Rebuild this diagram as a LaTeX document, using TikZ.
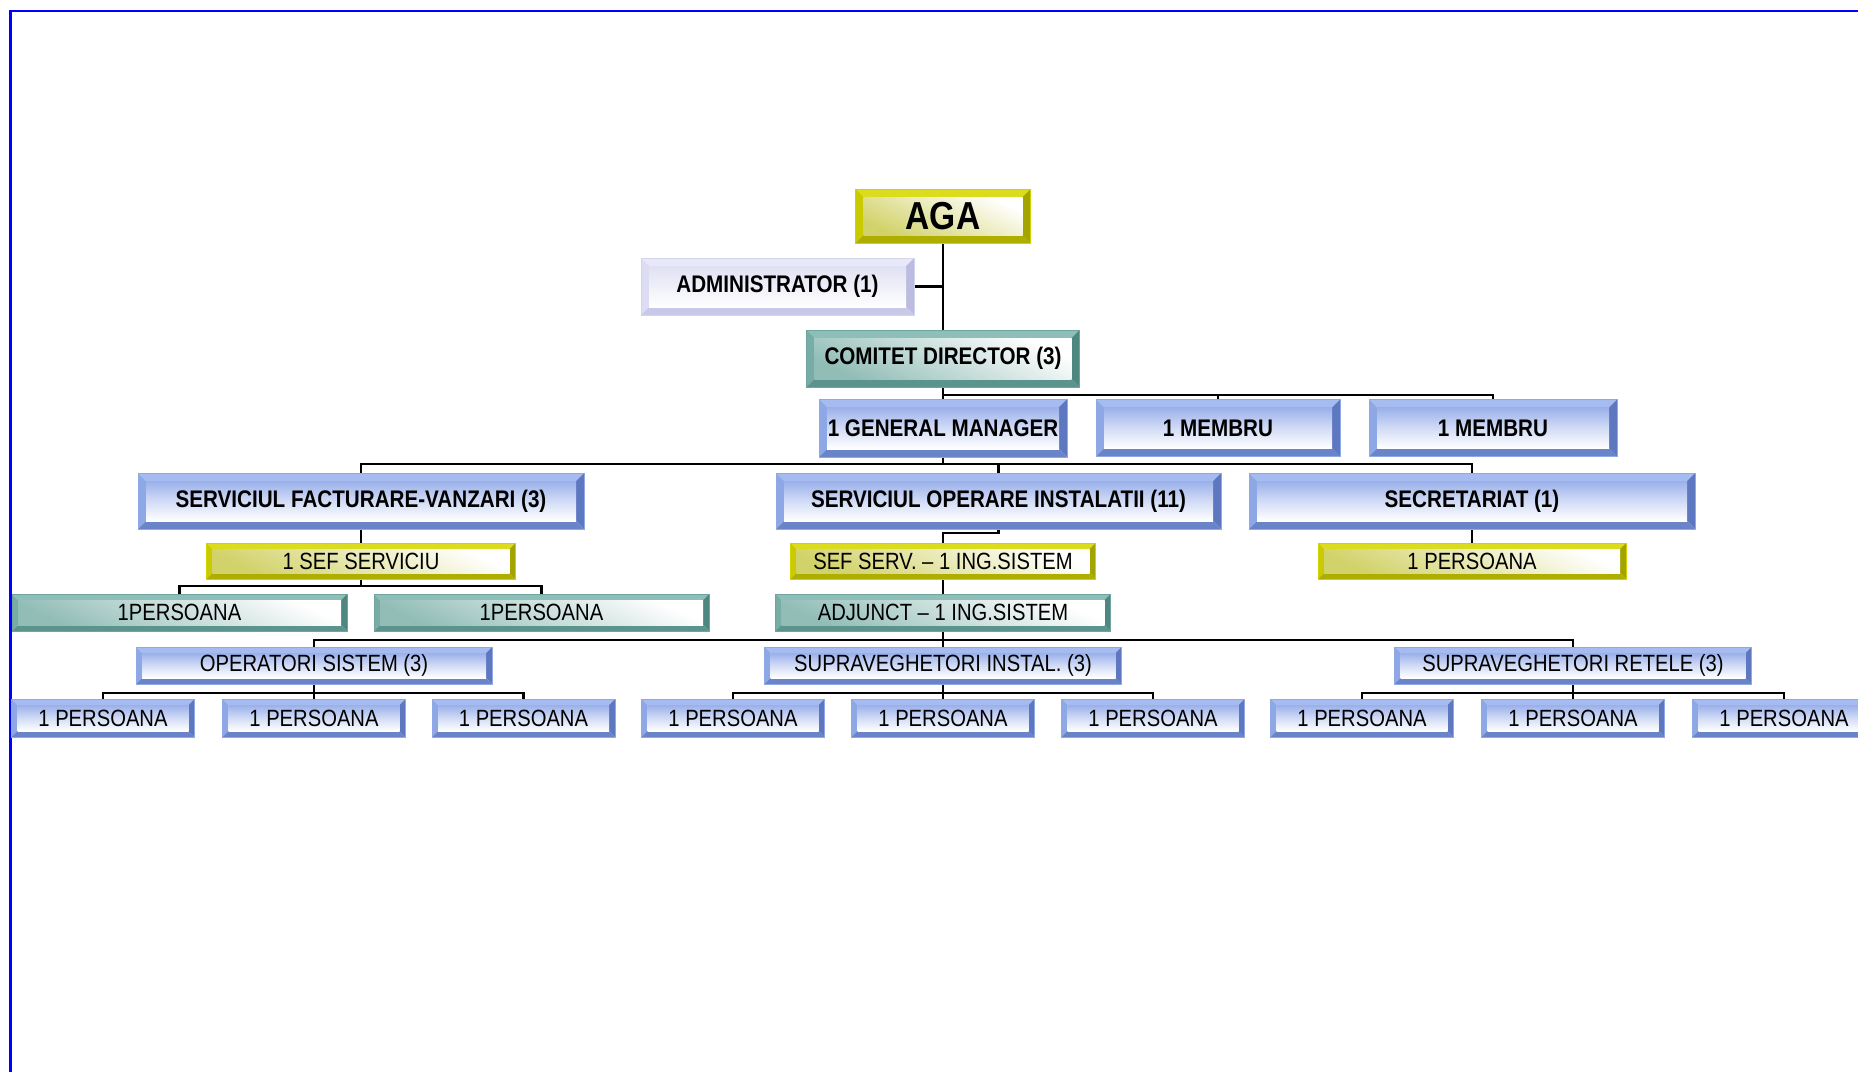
\documentclass[tikz,border=0pt]{standalone}
\usepackage{fontspec}
\setmainfont{Liberation Sans}
\newfontfamily\labfont[FakeStretch=0.86]{Liberation Sans}
\usetikzlibrary{calc}
\pgfdeclarelayer{background}
\pgfsetlayers{background,main}
% blue scheme
\definecolor{blT}{HTML}{A6BCF1}
\definecolor{blL}{HTML}{8EA7E5}
\definecolor{blR}{HTML}{5D78C0}
\definecolor{blB}{HTML}{6A84CA}
\definecolor{blO}{HTML}{8FA8E6}
\definecolor{blFc}{HTML}{9AB0EA}
% yellow scheme
\definecolor{yeT}{HTML}{DCDC1E}
\definecolor{yeL}{HTML}{CACA00}
\definecolor{yeR}{HTML}{A4A400}
\definecolor{yeB}{HTML}{AEAE00}
\definecolor{yeO}{HTML}{D2D200}
\definecolor{yeFc}{HTML}{D2D26A}
% teal scheme
\definecolor{teT}{HTML}{8EBEB8}
\definecolor{teL}{HTML}{78ADA6}
\definecolor{teR}{HTML}{4E8780}
\definecolor{teB}{HTML}{5B948D}
\definecolor{teO}{HTML}{6FA59E}
\definecolor{teFc}{HTML}{92BDB7}
% lavender scheme
\definecolor{lvT}{HTML}{E8E8F8}
\definecolor{lvL}{HTML}{DCDCF2}
\definecolor{lvR}{HTML}{BCBCE0}
\definecolor{lvB}{HTML}{C8C8E7}
\definecolor{lvO}{HTML}{D4D4EE}
\definecolor{lvFc}{HTML}{E0E0F5}
\definecolor{frameblue}{RGB}{0,0,255}
\tikzset{
  bvw/.store in=\bvw, bvw=8,
  blF/.style={top color=blFc, bottom color=white, middle color=blFc!45},
  yeF/.style={top color=white, bottom color=yeFc, shading angle=-25},
  teF/.style={top color=white, bottom color=teFc, shading angle=-25},
  lvF/.style={top color=lvFc, bottom color=white},
  scheme/.style={
    bvT/.style={fill=#1T}, bvL/.style={fill=#1L},
    bvR/.style={fill=#1R}, bvB/.style={fill=#1B},
    bvF/.style={#1F}, draw=#1O},
  sz/.style 2 args={minimum width=#1pt, minimum height=#2pt},
  bevel/.style={rectangle, inner sep=0pt, outer sep=0pt, line width=0.8pt,
    path picture={
      \coordinate (bvnw) at (path picture bounding box.north west);
      \coordinate (bvne) at (path picture bounding box.north east);
      \coordinate (bvsw) at (path picture bounding box.south west);
      \coordinate (bvse) at (path picture bounding box.south east);
      \coordinate (bvinw) at ($(bvnw)+(\bvw,\bvw)$);
      \coordinate (bvine) at ($(bvne)+(-\bvw,\bvw)$);
      \coordinate (bvisw) at ($(bvsw)+(\bvw,-\bvw)$);
      \coordinate (bvise) at ($(bvse)+(-\bvw,-\bvw)$);
      \fill[bvT] (bvnw)--(bvne)--(bvine)--(bvinw)--cycle;
      \fill[bvL] (bvnw)--(bvinw)--(bvisw)--(bvsw)--cycle;
      \fill[bvR] (bvne)--(bvse)--(bvise)--(bvine)--cycle;
      \fill[bvB] (bvsw)--(bvisw)--(bvise)--(bvse)--cycle;
      \shade[bvF] (bvinw) rectangle (bvise);
    }},
  bigbox/.style={bevel, bvw=8, font=\labfont\bfseries\fontsize{24}{28}\selectfont},
  smallbox/.style={bevel, bvw=6, font=\labfont\fontsize{23.5}{28}\selectfont},
  conn/.style={draw=black, line width=2.4pt},
}
\begin{document}
\begin{tikzpicture}[x=1pt, y=-1pt]
\useasboundingbox (0,0) rectangle (1858,1071);

% top levels
\node[bigbox, scheme=ye, sz={175}{54}, font=\labfont\bfseries\fontsize{39}{44}\selectfont] (aga) at (943,216) {AGA};
\node[bigbox, scheme=lv, sz={273}{57}] (adm) at (777.5,286.5) {ADMINISTRATOR (1)};
\node[bigbox, scheme=te, sz={273}{57}] (cd) at (943,358.5) {COMITET DIRECTOR (3)};
\node[bigbox, scheme=bl, sz={248}{58}] (gm) at (943,428) {1 GENERAL MANAGER};
\node[bigbox, scheme=bl, sz={244}{57}] (m1) at (1218,428) {1 MEMBRU};
\node[bigbox, scheme=bl, sz={248}{57}] (m2) at (1493,428) {1 MEMBRU};

% services
\node[bigbox, scheme=bl, sz={446}{56}] (sf) at (361,501) {SERVICIUL FACTURARE-VANZARI (3)};
\node[bigbox, scheme=bl, sz={445}{56}] (so) at (998.5,501) {SERVICIUL OPERARE INSTALATII (11)};
\node[bigbox, scheme=bl, sz={446}{56}] (sec) at (1472,501) {SECRETARIAT (1)};

% heads
\node[smallbox, scheme=ye, sz={309}{36}] (sef1) at (361,561) {1 SEF SERVICIU};
\node[smallbox, scheme=ye, sz={305}{36}] (sef2) at (943,561) {SEF SERV. – 1 ING.SISTEM};
\node[smallbox, scheme=ye, sz={308}{36}] (psec) at (1472,561) {1 PERSOANA};

% teal row
\node[smallbox, scheme=te, sz={335}{37}] (pt1) at (179.5,612.5) {1PERSOANA};
\node[smallbox, scheme=te, sz={335}{37}] (pt2) at (541.5,612.5) {1PERSOANA};
\node[smallbox, scheme=te, sz={335}{37}] (adj) at (943,612.5) {ADJUNCT – 1 ING.SISTEM};

% groups
\node[smallbox, scheme=bl, sz={356}{37}] (op) at (314,665.5) {OPERATORI SISTEM (3)};
\node[smallbox, scheme=bl, sz={357}{37}] (si) at (943,665.5) {SUPRAVEGHETORI INSTAL. (3)};
\node[smallbox, scheme=bl, sz={357}{37}] (sr) at (1573,665.5) {SUPRAVEGHETORI RETELE (3)};

% bottom persons
\foreach \nm/\xx in {p1/103, p2/314, p3/523.5, p4/733, p5/943, p6/1153, p7/1362, p8/1573, p9/1784}
  \node[smallbox, scheme=bl, sz={183}{38}] (\nm) at (\xx,718) {1 PERSOANA};

\begin{pgfonlayer}{background}
\fill[white] (0,0) rectangle (1858,1071);
\draw[frameblue, line width=2.6pt] (10.5,1075) -- (10.5,11) -- (1862,11);
\draw[conn] (aga.south) -- (cd.north);
\draw[conn] (adm.east) -- (adm.east -| aga.south);
\draw[conn] (cd.south) -- (gm.north);
\path (cd.south) ++(0,8) coordinate (bus1);
\draw[conn] (bus1) -| (m1.north);
\draw[conn] (bus1) -| (m2.north);
\path (gm.south) ++(0,7) coordinate (bus2);
\draw[conn] (gm.south) -- (bus2);
\draw[conn] (bus2) -| (sf.north);
\draw[conn] (bus2) -| (so.north);
\draw[conn] (bus2) -| (sec.north);
\draw[conn] (sf.south) -- (sef1.north);
\path (sef1.south) ++(0,7) coordinate (bus3);
\draw[conn] (sef1.south) -- (bus3);
\draw[conn] (bus3) -| (pt1.north);
\draw[conn] (bus3) -| (pt2.north);
\draw[conn] (so.south) -- ++(0,4) -| (sef2.north);
\draw[conn] (sec.south) -- (psec.north);
\draw[conn] (sef2.south) -- (adj.north);
\path (adj.south) ++(0,9) coordinate (bus4);
\draw[conn] (adj.south) -- (si.north);
\draw[conn] (bus4) -| (op.north);
\draw[conn] (bus4) -| (sr.north);
\path (op.south) ++(0,9) coordinate (bus5);
\draw[conn] (op.south) -- (p2.north);
\draw[conn] (bus5) -| (p1.north);
\draw[conn] (bus5) -| (p3.north);
\path (si.south) ++(0,9) coordinate (bus6);
\draw[conn] (si.south) -- (p5.north);
\draw[conn] (bus6) -| (p4.north);
\draw[conn] (bus6) -| (p6.north);
\path (sr.south) ++(0,9) coordinate (bus7);
\draw[conn] (sr.south) -- (p8.north);
\draw[conn] (bus7) -| (p7.north);
\draw[conn] (bus7) -| (p9.north);
\end{pgfonlayer}
\end{tikzpicture}
\end{document}
